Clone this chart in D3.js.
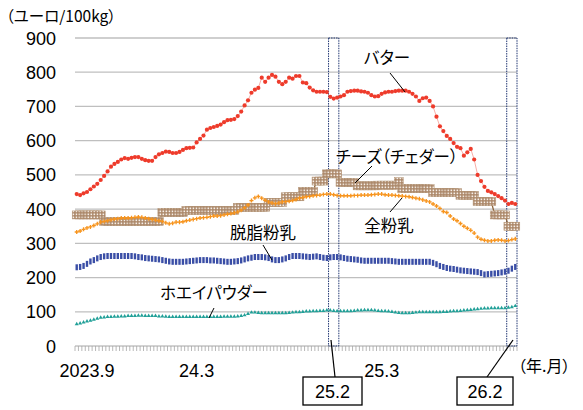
<!DOCTYPE html>
<html><head><meta charset="utf-8">
<script src="https://cdn.jsdelivr.net/npm/d3@7"></script>
<style>
body{margin:0;background:#fff;}
text{font-family:"Liberation Sans",Arial,sans-serif;}
.jp{font-family:"Noto Sans CJK JP",sans-serif;font-feature-settings:"palt";}
</style></head><body>
<svg id="c" width="583" height="410"></svg>
<script>
// Weekly prices (EUR/100kg), first week of Sep 2023 to Feb 2026
const butter = [444,441,446,450,458,466,474,485,497,510,524,532,538,545,549,547,550,552,552,547,543,541,541,552,560,564,568,567,564,564,567,573,578,579,580,595,605,615,632,637,640,643,647,654,660,661,663,672,685,703,718,740,749,754,784,772,784,792,787,772,765,772,784,781,789,789,770,768,755,747,743,743,743,742,728,723,726,729,733,743,745,746,746,744,743,740,733,729,730,737,741,743,743,745,746,746,746,743,737,729,716,724,726,716,700,670,642,628,614,605,593,582,578,556,566,576,545,500,482,465,453,449,444,438,432,425,415,418,415];
const cheese = [383,383,383,383,383,383,383,383,364,364,364,364,364,364,364,364,364,364,364,364,364,364,364,364,364,390,390,390,390,390,390,390,396,396,396,396,396,396,396,396,396,396,396,396,396,396,396,405,405,405,405,405,405,405,405,405,420,420,420,420,420,436,436,436,436,436,452,452,452,452,482,482,482,503,503,503,503,478,478,478,478,478,468,468,468,468,468,468,470,470,470,470,470,470,480,460,460,460,460,460,460,460,460,460,448,448,448,448,448,448,448,448,440,440,440,440,440,422,422,422,422,422,383,383,383,383,350,350,350];
const wmp = [333,336,341,345,348,352,357,362,364,366,369,371,372,374,374,374,375,376,377,376,374,372,370,368,366,364,360,357,359,362,362,363,366,368,370,372,374,375,376,378,380,380,381,383,385,387,389,392,397,404,412,425,433,437,432,426,421,418,416,418,421,422,423,425,428,432,434,436,437,439,440,441,443,444,444,442,440,439,439,439,439,440,440,441,441,441,442,443,444,444,442,441,441,440,439,438,437,436,434,432,430,427,424,421,415,409,402,393,390,380,371,366,358,350,344,338,330,318,312,309,307,307,309,310,309,307,308,311,313];
const smp = [230,231,234,240,247,251,256,260,262,263,263,263,263,263,263,263,263,262,260,259,257,256,255,254,253,251,249,247,246,246,246,246,247,248,249,250,251,251,251,250,250,249,248,247,246,246,247,248,250,253,256,258,260,260,260,259,257,253,251,251,253,256,260,263,263,263,262,261,260,261,262,260,258,257,259,260,260,259,257,255,254,253,252,250,249,249,249,249,249,249,249,249,248,247,246,246,246,246,246,246,246,246,246,246,243,239,234,231,228,226,225,223,221,220,219,218,217,216,213,209,210,211,212,213,215,217,220,226,231];
const whey = [64,66,69,72,74,77,80,83,84,85,85,86,86,87,87,88,88,88,89,89,88,88,88,88,87,87,86,85,85,85,85,85,85,85,85,85,85,85,85,85,85,85,85,86,86,86,86,87,88,90,94,98,98,97,96,96,96,96,96,96,96,96,97,98,99,99,100,101,101,102,102,103,103,104,104,103,102,102,102,102,102,103,104,104,105,105,105,104,103,102,102,101,100,98,97,96,96,96,97,98,99,99,99,99,99,99,99,100,100,101,102,102,103,104,105,106,107,108,109,110,110,111,111,111,111,111,112,114,117];
const yTicks = [0,100,200,300,400,500,600,700,800,900];
const xTickLabels = ["2023.9","24.3","25.3"];
const xTickWeeks = [3,35,89];
const highlightLabels = ["25.2","26.2"];
const highlightWeeks = [[74,76],[126,128]];
const seriesNames = ["バター","チーズ（チェダー）","全粉乳","脱脂粉乳","ホエイパウダー"];

const svg = d3.select("#c");
const n = butter.length;
const x = d3.scaleBand().domain(d3.range(n)).range([75,517]).padding(0);
const xc = i => x(i) + x.bandwidth()/2;
const y = d3.scaleLinear().domain([0,900]).range([346,38]);

svg.append("g").selectAll("line").data(yTicks.filter(d=>d>0)).join("line")
  .attr("x1",75).attr("x2",517).attr("y1",d=>y(d)).attr("y2",d=>y(d))
  .attr("stroke","#bfbfbf").attr("stroke-width",1.3);
svg.append("g").selectAll("text").data(yTicks).join("text")
  .attr("x",56).attr("y",d=>y(d)+6.5).attr("text-anchor","end")
  .attr("font-size",18).attr("fill","#000").text(d=>d);
svg.append("text").attr("class","jp").attr("x",6).attr("y",22).attr("font-size",15.5).text("（ユーロ/100kg）");

svg.append("line").attr("x1",75).attr("x2",517).attr("y1",y(0)).attr("y2",y(0)).attr("stroke","#a6a6a6").attr("stroke-width",1);
svg.append("g").selectAll("line").data(d3.range(n+1)).join("line")
  .attr("x1",i=>75+i*x.step()).attr("x2",i=>75+i*x.step())
  .attr("y1",y(0)).attr("y2",y(0)+5).attr("stroke","#a6a6a6").attr("stroke-width",0.8);
svg.append("g").selectAll("text").data(xTickLabels).join("text")
  .attr("x",(d,i)=>xc(xTickWeeks[i])).attr("y",377).attr("text-anchor","middle")
  .attr("font-size",18).text(d=>d);
svg.append("text").attr("class","jp").attr("x",518).attr("y",372).attr("font-size",16).text("（年.月）");

highlightWeeks.forEach(([a,b])=>{
  svg.append("rect").attr("x",x(a)).attr("y",y(900)).attr("width",x(b)+x.bandwidth()-x(a)).attr("height",y(0)-y(900))
    .attr("fill","none").attr("stroke","#1f3572").attr("stroke-width",1).attr("stroke-dasharray","1.5,1");
});

const defs = svg.append("defs");
const pat = defs.append("pattern").attr("id","chk").attr("width",3).attr("height",3).attr("patternUnits","userSpaceOnUse");
pat.append("rect").attr("width",3).attr("height",3).attr("fill","#a98465");
pat.append("rect").attr("x",0.5).attr("y",0.5).attr("width",1.7).attr("height",1.7).attr("fill","#f6efe8");

const line = d3.line().x((d,i)=>xc(i)).y(d=>y(d));

// cheese
svg.append("path").datum(cheese).attr("d",line).attr("fill","none").attr("stroke","#8c6239").attr("stroke-width",1.3);
svg.append("g").selectAll("rect").data(cheese).join("rect")
  .attr("x",(d,i)=>xc(i)-4.5).attr("y",d=>y(d)-4).attr("width",9).attr("height",8)
  .attr("fill","url(#chk)").attr("stroke","#b09070").attr("stroke-width",0.5);

// whole milk powder
svg.append("path").datum(wmp).attr("d",line).attr("fill","none").attr("stroke","#f7941d").attr("stroke-width",0.4).attr("opacity",0.6);
svg.append("g").selectAll("path").data(wmp).join("path")
  .attr("transform",(d,i)=>`translate(${xc(i)},${y(d)})`)
  .attr("d",d3.symbol(d3.symbolCross,9)()).attr("fill","#f7941d");

// butter
svg.append("path").datum(butter).attr("d",line).attr("fill","none").attr("stroke","#ee3b2b").attr("stroke-width",0.6).attr("opacity",0.7);
svg.append("g").selectAll("circle").data(butter).join("circle")
  .attr("cx",(d,i)=>xc(i)).attr("cy",d=>y(d)).attr("r",2.1).attr("fill","#ee3b2b");

// skim milk powder
svg.append("g").selectAll("rect").data(smp).join("rect")
  .attr("x",(d,i)=>xc(i)-1.2).attr("y",d=>y(d)-3).attr("width",2.4).attr("height",6).attr("fill","#3a4ea6");

// whey powder
svg.append("g").selectAll("path").data(whey).join("path")
  .attr("transform",(d,i)=>`translate(${xc(i)},${y(d)})`)
  .attr("d",d3.symbol(d3.symbolTriangle,7)()).attr("fill","#21a098");

const labels = [
  {t:seriesNames[0], x:387, y:64, l:[390,73,405,92]},
  {t:seriesNames[1], x:397, y:163, l:[372,166,355,183]},
  {t:seriesNames[2], x:389, y:232, l:[390,212,402,198]},
  {t:seriesNames[3], x:263, y:239, l:[263,245,272,260]},
  {t:seriesNames[4], x:214, y:299, l:[214,308,209,318]}
];
labels.forEach(d=>{
  svg.append("text").attr("class","jp").attr("x",d.x).attr("y",d.y).attr("text-anchor","middle")
    .attr("font-size",16.5).attr("fill","#000").text(d.t);
  svg.append("line").attr("x1",d.l[0]).attr("y1",d.l[1]).attr("x2",d.l[2]).attr("y2",d.l[3]).attr("stroke","#000").attr("stroke-width",1);
});

const callouts = [{bx:303,bw:59,lx1:335,lx2:331},{bx:457,bw:56,lx1:487,lx2:513}];
callouts.forEach((c,k)=>{
  svg.append("line").attr("x1",c.lx1).attr("y1",377).attr("x2",c.lx2).attr("y2",340).attr("stroke","#000").attr("stroke-width",1.2);
  svg.append("rect").attr("x",c.bx).attr("y",377).attr("width",c.bw).attr("height",28).attr("fill","#fff").attr("stroke","#000").attr("stroke-width",1.3);
  svg.append("text").attr("x",c.bx+c.bw/2).attr("y",398).attr("text-anchor","middle").attr("font-size",18).text(highlightLabels[k]);
});
</script></body></html>
